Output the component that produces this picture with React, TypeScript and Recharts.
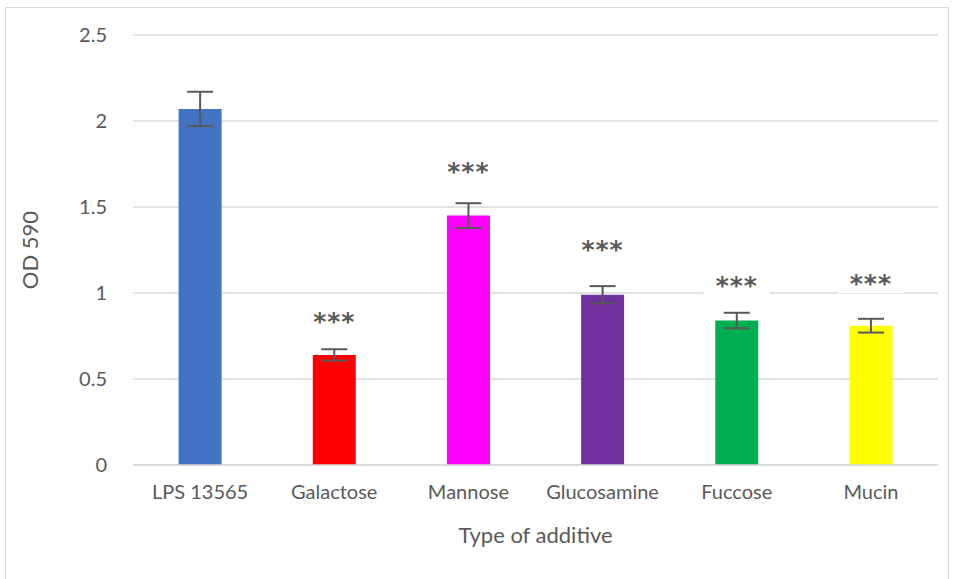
import { Bar, Cell, ComposedChart, CartesianGrid, ErrorBar, LabelList, Line, XAxis, YAxis } from "recharts"

const categories = ["LPS 13565", "Galactose", "Mannose", "Glucosamine", "Fuccose", "Mucin"]
const odValues = [2.07, 0.64, 1.45, 0.99, 0.84, 0.81]
const errValues = [0.1, 0.033, 0.072, 0.05, 0.045, 0.04]
// height (in OD units) where the significance stars sit
const starLevels = [null, 0.86, 1.73, 1.28, 1.07, 1.08]
const barColors = ["#4472C4", "#FF0000", "#FF00FF", "#7030A0", "#00B050", "#FFFF00"]
const yTicks = [0, 0.5, 1, 1.5, 2, 2.5]

const chartData = categories.map((name, i) => ({
  name,
  od: odValues[i],
  err: errValues[i],
  star: starLevels[i],
}))

const FONT = "Lato, 'Open Sans', sans-serif"

function StarLabel(props: any) {
  const { x, y, value } = props
  if (value == null) return null
  return (
    <g>
      <rect x={x - 33} y={y - 14} width={66} height={28} fill="#fff" />
      <text
        x={x}
        y={y + 13}
        textAnchor="middle"
        fontSize={25}
        fontWeight="bold"
        letterSpacing={1}
        fill="#595959"
        fontFamily="'DejaVu Sans', sans-serif"
      >
        ***
      </text>
    </g>
  )
}

export default function App() {
  return (
    <div style={{ position: "absolute", left: 0, top: 0, width: 955, height: 579, background: "#fff" }}>
      <div
        style={{
          position: "absolute",
          left: 5,
          top: 7,
          width: 944,
          height: 580,
          border: "1px solid #d9d9d9",
          boxSizing: "border-box",
        }}
      />
      <ComposedChart
        width={955}
        height={579}
        data={chartData}
        margin={{ top: 35, right: 17, left: 0, bottom: 34 }}
        barCategoryGap="34%"
        style={{ position: "absolute", left: 0, top: 0 }}
      >
        <CartesianGrid vertical={false} stroke="#d9d9d9" strokeWidth={1.5} />
        <XAxis
          dataKey="name"
          height={80}
          axisLine={{ stroke: "#d9d9d9", strokeWidth: 1.5 }}
          tickLine={false}
          tick={{ fill: "#595959", fontSize: 20, fontFamily: FONT }}
          tickMargin={14}
          interval={0}
          label={{
            value: "Type of additive",
            position: "insideBottom",
            offset: 2,
            fill: "#595959",
            fontSize: 22,
            fontFamily: FONT,
          }}
        />
        <YAxis
          width={133}
          domain={[0, 2.5]}
          ticks={yTicks}
          axisLine={false}
          tickLine={false}
          tick={{ fill: "#595959", fontSize: 20, fontFamily: FONT }}
          tickMargin={20}
          label={{
            value: "OD 590",
            angle: -90,
            position: "insideLeft",
            offset: 30,
            style: { textAnchor: "middle" },
            fill: "#595959",
            fontSize: 22,
            fontFamily: FONT,
          }}
        />
        <Bar dataKey="od" isAnimationActive={false}>
          {chartData.map((d, i) => (
            <Cell key={d.name} fill={barColors[i]} />
          ))}
          <ErrorBar dataKey="err" width={13} stroke="#595959" strokeWidth={2} />
        </Bar>
        <Line dataKey="star" stroke="none" dot={false} activeDot={false} isAnimationActive={false}>
          <LabelList dataKey="star" content={StarLabel} />
        </Line>
      </ComposedChart>
    </div>
  )
}
